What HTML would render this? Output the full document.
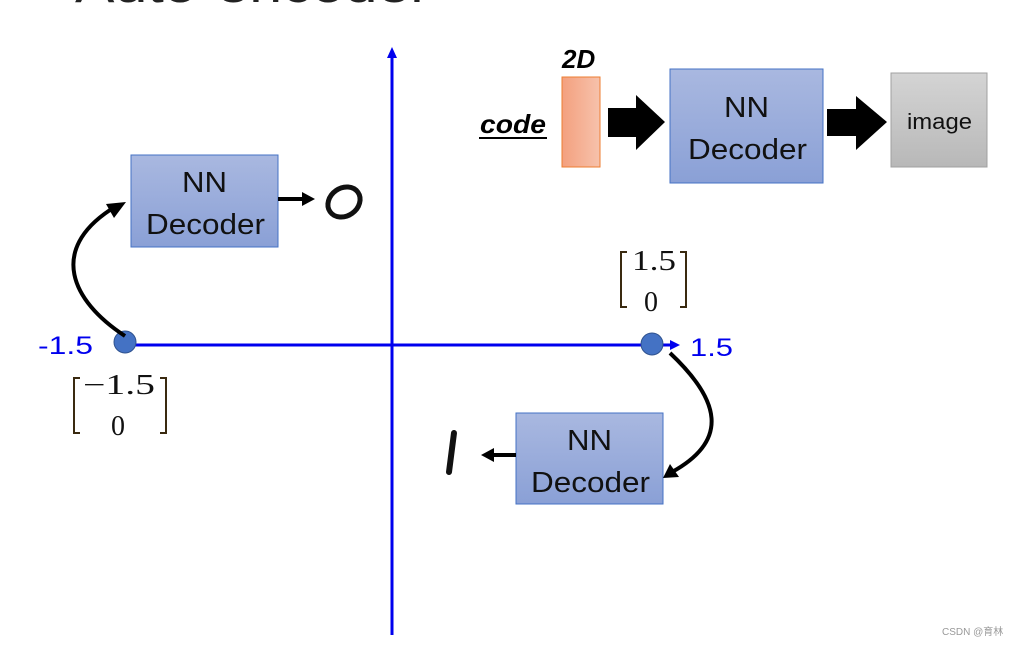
<!DOCTYPE html>
<html><head><meta charset="utf-8"><style>
body{margin:0;background:#fff;width:1024px;height:646px;overflow:hidden;font-family:"Liberation Sans",sans-serif}
</style></head><body>
<svg width="1024" height="646" xmlns="http://www.w3.org/2000/svg" font-family="Liberation Sans, sans-serif">
<defs>
<linearGradient id="bl" x1="0" y1="0" x2="0" y2="1"><stop offset="0" stop-color="#a9b8e0"/><stop offset="1" stop-color="#8aa0d6"/></linearGradient>
<linearGradient id="gr" x1="0" y1="0" x2="0" y2="1"><stop offset="0" stop-color="#d4d4d4"/><stop offset="1" stop-color="#b8b8b8"/></linearGradient>
<linearGradient id="or" x1="0" y1="0" x2="1" y2="0"><stop offset="0" stop-color="#f4a07e"/><stop offset="1" stop-color="#f6c2ac"/></linearGradient>
</defs>
<text x="75" y="2" font-size="48" fill="#222" textLength="355" lengthAdjust="spacingAndGlyphs">Auto-encoder</text>
<!-- axes -->
<line x1="392" y1="635" x2="392" y2="56" stroke="#0000ee" stroke-width="3"/>
<polygon points="392,47 387,58 397,58" fill="#0000ee"/>
<line x1="125" y1="345" x2="672" y2="345" stroke="#0000ee" stroke-width="3"/>
<polygon points="680,345 670,340 670,350" fill="#0000ee"/>
<text x="38" y="354" font-size="25" fill="#0000ee" textLength="55" lengthAdjust="spacingAndGlyphs">-1.5</text>
<text x="690" y="356" font-size="25" fill="#0000ee" textLength="43" lengthAdjust="spacingAndGlyphs">1.5</text>
<circle cx="125" cy="342" r="11" fill="#4472c4" stroke="#2f528f"/>
<circle cx="652" cy="344" r="11" fill="#4472c4" stroke="#2f528f"/>
<!-- vectors -->
<g font-family="Liberation Serif, serif" font-size="28" fill="#111">
<path d="M80,378 h-6 v55 h6 M160,378 h6 v55 h-6" stroke="#3a2a10" stroke-width="2" fill="none"/>
<text x="83" y="394" textLength="72" lengthAdjust="spacingAndGlyphs">−1.5</text><text x="111" y="435">0</text>
<path d="M627,252 h-6 v55 h6 M680,252 h6 v55 h-6" stroke="#3a2a10" stroke-width="2" fill="none"/>
<text x="632" y="270" textLength="44" lengthAdjust="spacingAndGlyphs">1.5</text><text x="644" y="311">0</text>
</g>
<!-- left box -->
<rect x="131" y="155" width="147" height="92" fill="url(#bl)" stroke="#4472c4"/>
<text x="182" y="192" font-size="29" fill="#111" textLength="45" lengthAdjust="spacingAndGlyphs">NN</text>
<text x="146" y="234" font-size="29" fill="#111" textLength="119" lengthAdjust="spacingAndGlyphs">Decoder</text>
<line x1="278" y1="199" x2="304" y2="199" stroke="#000" stroke-width="4"/>
<polygon points="315,199 302,192 302,206" fill="#000"/>
<ellipse cx="344" cy="202" rx="17" ry="14" transform="rotate(-35 344 202)" fill="none" stroke="#111" stroke-width="5"/>
<path d="M125,336 C70,300 50,250 110,210" stroke="#000" stroke-width="4" fill="none"/>
<polygon points="126,202 106,204 114,218" fill="#000"/>
<!-- right box -->
<rect x="516" y="413" width="147" height="91" fill="url(#bl)" stroke="#4472c4"/>
<text x="567" y="450" font-size="29" fill="#111" textLength="45" lengthAdjust="spacingAndGlyphs">NN</text>
<text x="531" y="492" font-size="29" fill="#111" textLength="119" lengthAdjust="spacingAndGlyphs">Decoder</text>
<line x1="516" y1="455" x2="492" y2="455" stroke="#000" stroke-width="4"/>
<polygon points="481,455 494,448 494,462" fill="#000"/>
<line x1="454" y1="433" x2="449" y2="472" stroke="#111" stroke-width="6" stroke-linecap="round"/>
<path d="M670,353 C720,400 730,440 672,472" stroke="#000" stroke-width="4" fill="none"/>
<polygon points="663,478 670,464 679,477" fill="#000"/>
<!-- top diagram -->
<text x="480" y="133" font-size="26" font-weight="bold" font-style="italic" fill="#000" textLength="66" lengthAdjust="spacingAndGlyphs">code</text>
<line x1="479" y1="138" x2="547" y2="138" stroke="#000" stroke-width="2"/>
<text x="562" y="68" font-size="26" font-weight="bold" font-style="italic" fill="#000">2D</text>
<rect x="562" y="77" width="38" height="90" fill="url(#or)" stroke="#ed7d31"/>
<polygon points="608,108 636,108 636,95 665,122 636,150 636,137 608,137" fill="#000"/>
<rect x="670" y="69" width="153" height="114" fill="url(#bl)" stroke="#4472c4"/>
<text x="724" y="117" font-size="29" fill="#111" textLength="45" lengthAdjust="spacingAndGlyphs">NN</text>
<text x="688" y="159" font-size="29" fill="#111" textLength="119" lengthAdjust="spacingAndGlyphs">Decoder</text>
<polygon points="827,109 856,109 856,96 887,122 856,150 856,136 827,136" fill="#000"/>
<rect x="891" y="73" width="96" height="94" fill="url(#gr)" stroke="#a0a0a0"/>
<text x="907" y="129" font-size="22" fill="#111" textLength="65" lengthAdjust="spacingAndGlyphs">image</text>
<text x="942" y="635" font-size="10" fill="#999" font-family="Liberation Sans, Noto Sans CJK SC, sans-serif">CSDN @育林</text>
</svg>
</body></html>
